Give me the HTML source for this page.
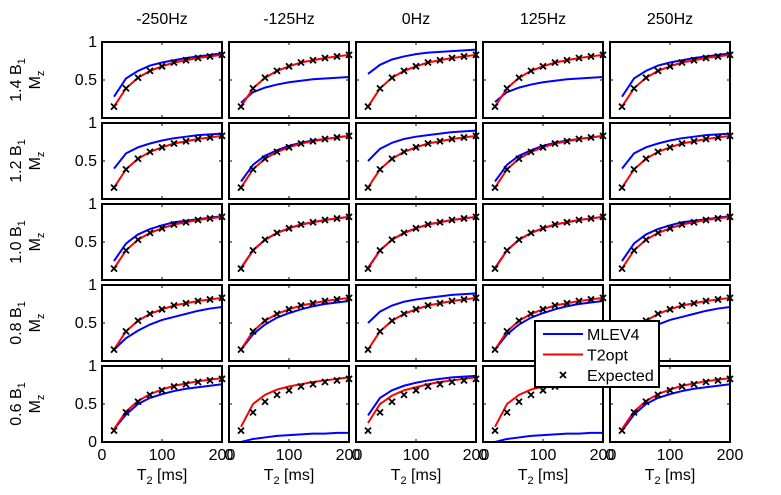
<!DOCTYPE html>
<html><head><meta charset="utf-8"><style>
body{margin:0;background:#fff}
svg{display:block;font-family:"Liberation Sans",sans-serif}
</style></head><body>
<svg id="chart" width="781" height="495" viewBox="0 0 781 495"></svg>
<script>
const colLabels=["-250Hz","-125Hz","0Hz","125Hz","250Hz"];
const rowLabels=["1.4","1.2","1.0","0.8","0.6"];
const t2=[20,40,60,80,100,120,140,160,180,200];
const expected=[0.15,0.39,0.53,0.62,0.68,0.73,0.76,0.79,0.81,0.83];
const xTicks=[0,100,200];
const yTicks=[0,0.5,1];
const E=expected;
const mlev=[
[[0.28,0.52,0.62,0.69,0.73,0.76,0.79,0.81,0.83,0.85],[0.2,0.34,0.4,0.44,0.47,0.49,0.51,0.52,0.53,0.54],[0.58,0.7,0.77,0.81,0.84,0.86,0.87,0.88,0.89,0.9],[0.21,0.34,0.4,0.44,0.47,0.49,0.51,0.52,0.53,0.54],[0.28,0.52,0.62,0.69,0.73,0.76,0.79,0.81,0.83,0.85]],
[[0.4,0.6,0.68,0.73,0.77,0.8,0.82,0.84,0.85,0.86],[0.23,0.45,0.57,0.64,0.7,0.74,0.77,0.79,0.81,0.83],[0.5,0.66,0.74,0.79,0.82,0.84,0.86,0.88,0.89,0.9],[0.23,0.45,0.57,0.64,0.7,0.74,0.77,0.79,0.81,0.83],[0.4,0.6,0.68,0.73,0.77,0.8,0.82,0.84,0.85,0.86]],
[[0.25,0.48,0.6,0.67,0.72,0.76,0.78,0.8,0.82,0.84],[0.16,0.39,0.53,0.62,0.68,0.73,0.76,0.79,0.81,0.83],[0.16,0.39,0.53,0.62,0.68,0.73,0.76,0.79,0.81,0.83],[0.16,0.39,0.53,0.62,0.68,0.73,0.76,0.79,0.81,0.83],[0.25,0.48,0.6,0.67,0.72,0.76,0.78,0.8,0.82,0.84]],
[[0.15,0.3,0.4,0.48,0.54,0.58,0.62,0.66,0.69,0.71],[0.15,0.35,0.48,0.57,0.63,0.68,0.72,0.75,0.77,0.79],[0.5,0.65,0.73,0.78,0.81,0.83,0.85,0.87,0.88,0.89],[0.15,0.35,0.48,0.57,0.63,0.68,0.72,0.75,0.77,0.79],[0.15,0.3,0.4,0.48,0.54,0.58,0.62,0.66,0.69,0.71]],
[[0.17,0.36,0.5,0.58,0.63,0.67,0.7,0.72,0.74,0.76],[0.0,0.04,0.06,0.08,0.09,0.1,0.11,0.11,0.12,0.12],[0.35,0.58,0.68,0.74,0.78,0.81,0.83,0.85,0.86,0.87],[0.0,0.04,0.06,0.08,0.09,0.1,0.11,0.11,0.12,0.12],[0.15,0.36,0.5,0.58,0.63,0.67,0.7,0.72,0.74,0.76]]
];
const t2opt=[
[E,E,E,E,E],[E,E,E,E,E],[E,E,E,E,E],[E,E,E,E,E],
[[0.17,0.4,0.54,0.63,0.69,0.74,0.77,0.8,0.82,0.84],[0.2,0.5,0.62,0.69,0.73,0.76,0.79,0.81,0.83,0.85],[0.25,0.5,0.61,0.68,0.72,0.76,0.79,0.81,0.83,0.85],[0.2,0.5,0.62,0.69,0.73,0.76,0.79,0.81,0.83,0.85],[0.17,0.4,0.54,0.63,0.69,0.74,0.77,0.8,0.82,0.84]]
];
const NS="http://www.w3.org/2000/svg";
const svg=document.getElementById('chart');
function mk(tag,attrs,parent){const e=document.createElementNS(NS,tag);for(const k in attrs)e.setAttribute(k,attrs[k]);(parent||svg).appendChild(e);return e;}
const X0=102,PW=120,PX=127,Y0=42,PH=76,PY=81,FS=16,FSS=11;
for(let r=0;r<5;r++){
  const top=Y0+r*PY;
  const yl=mk('text',{x:0,y:0,'font-size':FS,'text-anchor':'middle',transform:`translate(21,${top+PH/2}) rotate(-90)`});
  
  
  yl.innerHTML=rowLabels[r]+' B<tspan font-size="'+FSS+'" dy="4">1</tspan>';
  const ml=mk('text',{x:0,y:0,'font-size':FS,'text-anchor':'middle',transform:`translate(40,${top+PH/2}) rotate(-90)`});
  
  
  ml.innerHTML='M<tspan font-size="'+FSS+'" dy="4">z</tspan>';
  for(let c=0;c<5;c++){
    const left=X0+c*PX;
    const sx=v=>left+v/200*PW, sy=v=>top+PH-v*PH;
    const g=mk('g',{});
    
    
    const clip=mk('clipPath',{id:'cp'+r+c},g);
    mk('rect',{x:left,y:top,width:PW,height:PH},clip);
    [mlev[r][c],t2opt[r][c]].forEach((vals,i)=>{
      const p=mk('polyline',{points:t2.map((t,k)=>sx(t)+','+sy(vals[k])).join(' '),fill:'none',stroke:i?'#ff0000':'#0000ff','stroke-width':2,'clip-path':`url(#cp${r}${c})`},g);
      
      
    });
    t2.forEach((t,k)=>{
      const x=sx(t),y=sy(expected[k]);
      const m=mk('path',{d:`M${x-3},${y-3}L${x+3},${y+3}M${x-3},${y+3}L${x+3},${y-3}`,stroke:'#000','stroke-width':1.8},g);
      
      
    });
    mk('path',{d:`M${sx(100)},${top}v3M${sx(100)},${top+PH}v-3M${left},${sy(0.5)}h3M${left+PW},${sy(0.5)}h-3`,stroke:'#000','stroke-width':1},g);
    mk('rect',{x:left,y:top,width:PW,height:PH,fill:'none',stroke:'#000','stroke-width':2},g);
    if(r===0){const t=mk('text',{x:left+PW/2,y:24,'font-size':FS,'text-anchor':'middle'});t.textContent=colLabels[c];
      }
    if(c===0){const ys=r===4?yTicks:yTicks.slice(1);ys.forEach(v=>{const t=mk('text',{x:left-5,y:sy(v)+5,'font-size':FS,'text-anchor':'end'});t.textContent=String(v);
      });}
    if(r===4){xTicks.forEach(v=>{const t=mk('text',{x:sx(v),y:top+PH+18,'font-size':FS,'text-anchor':'middle'});t.textContent=String(v);
      });
      const xt=mk('text',{x:left+PW/2,y:top+PH+38,'font-size':FS,'text-anchor':'middle'});
      
      xt.innerHTML='T<tspan font-size="'+FSS+'" dy="4">2</tspan><tspan dy="-4"> [ms]</tspan>';}
  }
}
const lg=mk('g',{});


mk('rect',{x:535,y:321,width:124,height:66,fill:'#fff',stroke:'#000','stroke-width':2},lg);
[['MLEV4','#0000ff',0],['T2opt','#ff0000',0],['Expected','#000',1]].forEach((e,i)=>{
  const y=334+i*20.5;
  if(e[2]){mk('path',{d:`M${563-3},${y-3}l6,6m-6,0l6,-6`,stroke:'#000','stroke-width':1.8},lg);}
  else mk('line',{x1:543,y1:y,x2:583,y2:y,stroke:e[1],'stroke-width':2},lg);
  const t=mk('text',{x:587,y:y+6,'font-size':FS},lg);t.textContent=e[0];
  
});
</script>
</body></html>
